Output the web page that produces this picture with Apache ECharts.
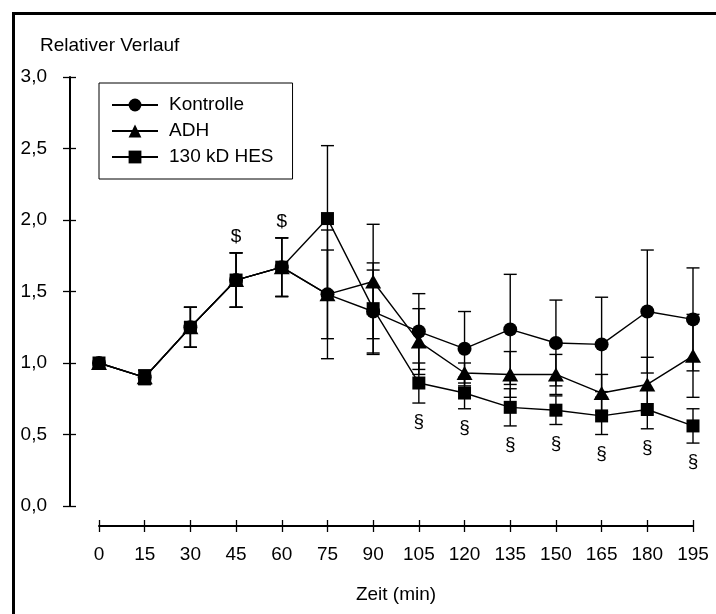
<!DOCTYPE html>
<html>
<head>
<meta charset="utf-8">
<script src="https://cdn.jsdelivr.net/npm/echarts@6/dist/echarts.min.js"></script>
<style>
  html, body { margin: 0; padding: 0; background: #fff; }
  #chart { width: 716px; height: 614px; }
</style>
</head>
<body>
<div id="chart"></div>
<script>
// Sampling times (min)
const times = [0, 15, 30, 45, 60, 75, 90, 105, 120, 135, 150, 165, 180, 195];

// Means and standard deviations per group
const kontrolle    = [1.00, 0.90, 1.25, 1.58, 1.67, 1.48, 1.36, 1.22, 1.10, 1.235, 1.14, 1.13, 1.36, 1.305];
const kontrolleErr = [0.00, 0.05, 0.14, 0.19, 0.205, 0.31, 0.29, 0.265, 0.26, 0.385, 0.30, 0.33, 0.43, 0.36];

const adh    = [1.00, 0.90, 1.25, 1.58, 1.67, 1.48, 1.57, 1.15, 0.93, 0.92, 0.92, 0.79, 0.85, 1.05];
const adhErr = [0.00, 0.05, 0.14, 0.19, 0.205, 0.45, 0.40, 0.23, 0.07, 0.16, 0.14, 0.13, 0.19, 0.29];

const hes    = [1.00, 0.90, 1.25, 1.58, 1.67, 2.01, 1.38, 0.86, 0.79, 0.69, 0.67, 0.63, 0.675, 0.56];
const hesErr = [0.00, 0.05, 0.14, 0.19, 0.205, 0.51, 0.32, 0.14, 0.11, 0.13, 0.10, 0.13, 0.135, 0.12];

// Significance marks: "$" above the bar, "§" below the HES bar
const dollarTimes = [45, 60];
const paraTimes = [105, 120, 135, 150, 165, 180, 195];

// Axis tick labels
const yTickLabels = ['0,0', '0,5', '1,0', '1,5', '2,0', '2,5', '3,0'];
const xTickLabels = ['0', '15', '30', '45', '60', '75', '90', '105', '120', '135', '150', '165', '180', '195'];

const FONT = '"Liberation Sans", Arial, Helvetica, sans-serif';
const chart = echarts.init(document.getElementById('chart'), null, { renderer: 'canvas' });

function lineSeries(name, values, symbol, size) {
  return {
    type: 'line', name: name, z: 3,
    data: times.map((t, i) => [t, values[i]]),
    symbol: symbol, symbolSize: size, showAllSymbol: true,
    lineStyle: { color: '#000', width: 1.4 },
    itemStyle: { color: '#000', borderWidth: 0 },
    emphasis: { disabled: true },
    animation: false
  };
}

function errorSeries(name, values, errs) {
  return {
    type: 'custom', name: name, z: 2, silent: true,
    data: times.map((t, i) => [t, values[i] - errs[i], values[i] + errs[i]]),
    renderItem(params, api) {
      const x = api.value(0);
      const lo = api.coord([x, api.value(1)]);
      const hi = api.coord([x, api.value(2)]);
      if (Math.abs(hi[1] - lo[1]) < 1) return null;
      const hw = 6.5;
      const style = { stroke: '#000', lineWidth: 1.4 };
      return {
        type: 'group',
        children: [
          { type: 'line', shape: { x1: lo[0], y1: lo[1], x2: hi[0], y2: hi[1] }, style: style },
          { type: 'line', shape: { x1: lo[0] - hw, y1: lo[1], x2: lo[0] + hw, y2: lo[1] }, style: style },
          { type: 'line', shape: { x1: hi[0] - hw, y1: hi[1], x2: hi[0] + hw, y2: hi[1] }, style: style }
        ]
      };
    },
    animation: false
  };
}

function markSeries(name, stamps, glyph, above) {
  return {
    type: 'custom', name: name, z: 4, silent: true,
    data: stamps.map(t => {
      const i = times.indexOf(t);
      return [t, above ? hes[i] + hesErr[i] : hes[i] - hesErr[i]];
    }),
    renderItem(params, api) {
      const p = api.coord([api.value(0), api.value(1)]);
      return {
        type: 'text',
        style: {
          x: p[0], y: above ? p[1] - 16 : p[1] + 19,
          text: glyph, fill: '#000',
          font: '19px ' + FONT,
          align: 'center', verticalAlign: 'middle'
        }
      };
    },
    animation: false
  };
}

const yFmt = v => yTickLabels[Math.round(v / 0.5)];
const xFmt = v => xTickLabels[Math.round(v / 15)];

chart.setOption({
  animation: false,
  backgroundColor: '#fff',
  textStyle: { fontFamily: FONT, color: '#000' },
  title: {
    text: 'Relativer Verlauf', left: 40, top: 36, padding: 0,
    textStyle: { fontFamily: FONT, fontSize: 19, fontWeight: 'normal', color: '#000' }
  },
  legend: {
    orient: 'vertical', left: 99, top: 83,
    data: ['Kontrolle', 'ADH', '130 kD HES'],
    itemWidth: 46, itemHeight: 16, itemGap: 6,
    padding: [12, 19, 12, 12],
    borderColor: '#000', borderWidth: 1,
    selectedMode: false,
    textStyle: { fontFamily: FONT, fontSize: 19, color: '#000', lineHeight: 20, padding: [0, 0, 0, 6] }
  },
  grid: { left: 99, right: 23, top: 77, bottom: 108, containLabel: false },
  xAxis: [
    {
      type: 'value', min: 0, max: 195, interval: 15, position: 'bottom', offset: 20,
      name: 'Zeit (min)', nameLocation: 'middle', nameGap: 59,
      nameTextStyle: { fontFamily: FONT, fontSize: 19, color: '#000' },
      axisLine: { show: true, onZero: false, lineStyle: { color: '#000', width: 2 } },
      axisTick: { show: true, inside: false, length: 6, lineStyle: { color: '#000', width: 1.3 } },
      axisLabel: { formatter: xFmt, margin: 19, fontFamily: FONT, fontSize: 19, color: '#000' },
      splitLine: { show: false }
    },
    {
      type: 'value', min: 0, max: 195, interval: 15, position: 'bottom', offset: 20,
      axisLine: { show: false, onZero: false },
      axisTick: { show: true, inside: true, length: 6, lineStyle: { color: '#000', width: 1.3 } },
      axisLabel: { show: false },
      splitLine: { show: false }
    }
  ],
  yAxis: [
    {
      type: 'value', min: 0, max: 3, interval: 0.5, position: 'left', offset: 29,
      axisLine: { show: true, onZero: false, lineStyle: { color: '#000', width: 2 } },
      axisTick: { show: true, inside: false, length: 7, lineStyle: { color: '#000', width: 1.3 } },
      axisLabel: { formatter: yFmt, margin: 23, fontFamily: FONT, fontSize: 19, color: '#000' },
      splitLine: { show: false }
    },
    {
      type: 'value', min: 0, max: 3, interval: 0.5, position: 'left', offset: 29,
      axisLine: { show: false, onZero: false },
      axisTick: { show: true, inside: true, length: 6, lineStyle: { color: '#000', width: 1.3 } },
      axisLabel: { show: false },
      splitLine: { show: false }
    }
  ],
  graphic: [
    {
      type: 'rect', silent: true, z: -10,
      shape: { x: 13.5, y: 13.5, width: 760, height: 660 },
      style: { fill: 'transparent', stroke: '#000', lineWidth: 3 }
    }
  ],
  series: [
    errorSeries('Kontrolle SD', kontrolle, kontrolleErr),
    errorSeries('ADH SD', adh, adhErr),
    errorSeries('130 kD HES SD', hes, hesErr),
    lineSeries('Kontrolle', kontrolle, 'circle', 14),
    lineSeries('ADH', adh, 'triangle', [16, 14]),
    lineSeries('130 kD HES', hes, 'rect', 13),
    markSeries('$', dollarTimes, '$', true),
    markSeries('§', paraTimes, '§', false)
  ]
});
</script>
</body>
</html>
